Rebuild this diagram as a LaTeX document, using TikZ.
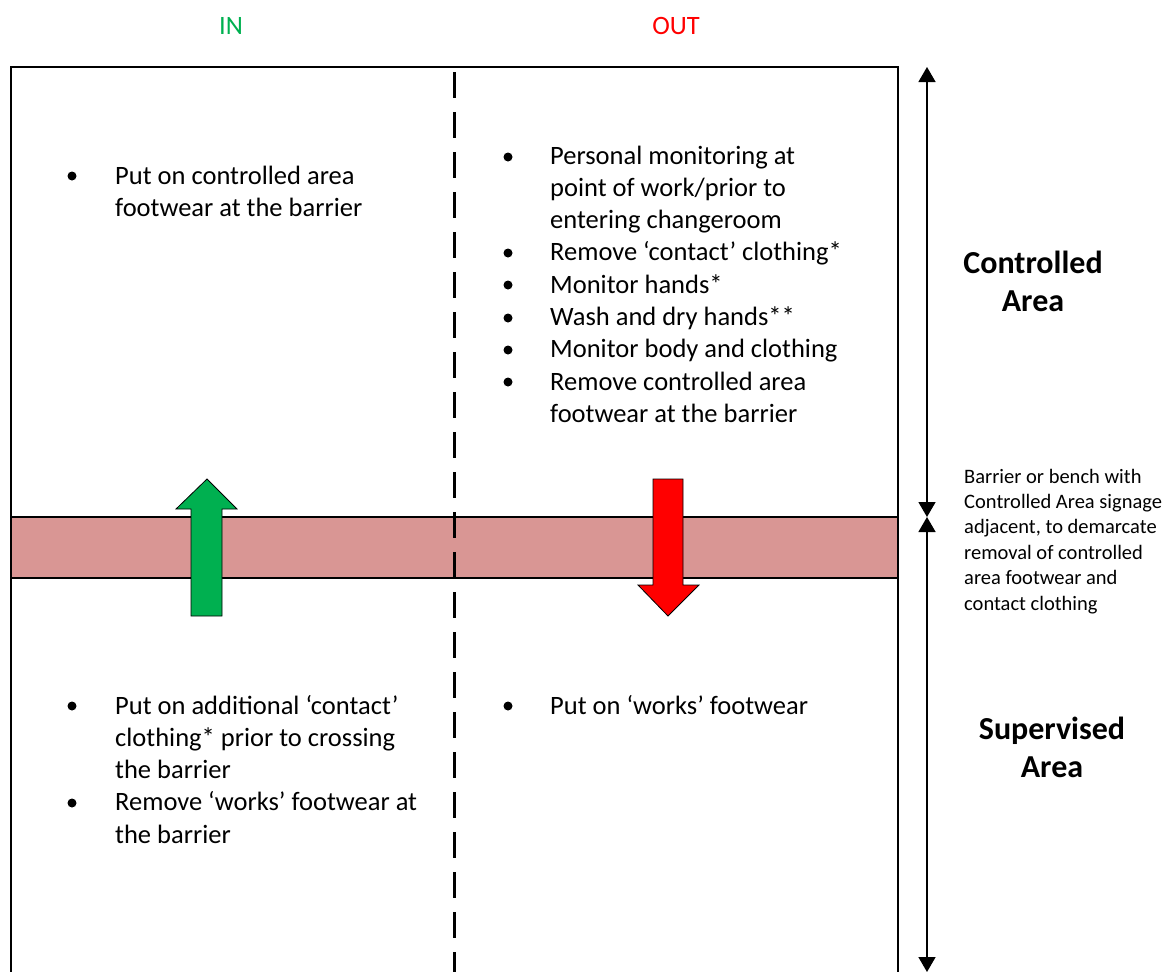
\documentclass[tikz,border=0pt]{standalone}
\usepackage{fontspec}
\setmainfont{Carlito}
\usetikzlibrary{arrows.meta}
\definecolor{ingreen}{HTML}{00B050}
\definecolor{outred}{HTML}{FF0000}
\definecolor{barrierfill}{HTML}{D99694}
\tikzset{
  body/.style={anchor=base west, inner sep=0pt, font=\fontsize{26.5}{32.3}\selectfont},
  heading/.style={anchor=base, inner sep=0pt, font=\fontsize{26.5}{32.3}\selectfont},
  zonelabel/.style={anchor=base, inner sep=0pt, font=\fontsize{32}{39}\selectfont\bfseries},
  note/.style={anchor=base west, inner sep=0pt, font=\fontsize{20.5}{25.4}\selectfont},
  dot/.style={circle, fill=black, inner sep=0pt, minimum size=9pt},
  frame/.style={line width=1.8pt},
  divider/.style={line width=3pt, dash pattern=on 26pt off 14pt},
  span/.style={line width=1.5pt, {Triangle[length=15pt,width=17pt]}-{Triangle[length=15pt,width=17pt]}},
  flow/.style={draw=black, line width=0.8pt}
}
\begin{document}
\begin{tikzpicture}[x=1pt,y=-1pt]
\useasboundingbox (0,0) rectangle (1173,972);

% column headings
\node[heading, text=ingreen] (inhead) at (231,34) {IN};
\node[heading, text=outred] (outhead) at (676,34) {OUT};

% barrier band across both columns
\draw[frame, fill=barrierfill] (11,517) rectangle (898,578);

% outer frame (open at the bottom)
\draw[frame] (11,972) -- (11,67) -- (898,67) -- (898,972);

% IN / OUT divider
\draw[divider] (454,72) -- (454,972);

% direction arrows through the barrier
\draw[flow, fill=ingreen] (191,616) -- (191,509) -- (176,509) -- (207,479)
  -- (237,509) -- (222,509) -- (222,616) -- cycle;
\draw[flow, fill=outred] (653,479) -- (683,479) -- (683,585) -- (699,585)
  -- (668,616) -- (638,585) -- (653,585) -- cycle;

% controlled area, IN
\node[dot] (b1) at (72,176) {};
\node[body] (t1a) at (115,184) {Put on controlled area};
\node[body] (t1b) at (115,216.3) {footwear at the barrier};

% controlled area, OUT
\node[dot] (b2) at (508,157) {};
\node[body] (t2a) at (550,164) {Personal monitoring at};
\node[body] (t2b) at (550,196.3) {point of work/prior to};
\node[body] (t2c) at (550,228.6) {entering changeroom};
\node[dot] (b3) at (508,253) {};
\node[body] (t3) at (550,260.9) {Remove ‘contact’ clothing*};
\node[dot] (b4) at (508,285) {};
\node[body] (t4) at (550,293.2) {Monitor hands*};
\node[dot] (b5) at (508,318) {};
\node[body] (t5) at (550,325.5) {Wash and dry hands**};
\node[dot] (b6) at (508,350) {};
\node[body] (t6) at (550,357.8) {Monitor body and clothing};
\node[dot] (b7) at (508,382) {};
\node[body] (t7a) at (550,390.1) {Remove controlled area};
\node[body] (t7b) at (550,422.4) {footwear at the barrier};

% supervised area, IN
\node[dot] (b8) at (72,706) {};
\node[body] (t8a) at (115,714) {Put on additional ‘contact’};
\node[body] (t8b) at (115,746.3) {clothing* prior to crossing};
\node[body] (t8c) at (115,778.6) {the barrier};
\node[dot] (b9) at (72,803) {};
\node[body] (t9a) at (115,810.9) {Remove ‘works’ footwear at};
\node[body] (t9b) at (115,843.2) {the barrier};

% supervised area, OUT
\node[dot] (b10) at (508,706) {};
\node[body] (t10) at (550,714) {Put on ‘works’ footwear};

% extent markers on the right
\coordinate (dtop) at (927,67);
\coordinate (dmid) at (927,517);
\coordinate (dbot) at (927,972);
\draw[span] (dtop) -- (dmid);
\draw[span] (dmid) -- (dbot);

\node[zonelabel] (ca1) at (1033,273) {Controlled};
\node[zonelabel] (ca2) at (1033,311) {Area};
\node[zonelabel] (sa1) at (1052,739) {Supervised};
\node[zonelabel] (sa2) at (1052,777) {Area};

% barrier note
\node[note] (n1) at (964,483) {Barrier or bench with};
\node[note] (n2) at (964,508.4) {Controlled Area signage};
\node[note] (n3) at (964,533.8) {adjacent, to demarcate};
\node[note] (n4) at (964,559.2) {removal of controlled};
\node[note] (n5) at (964,584.6) {area footwear and};
\node[note] (n6) at (964,610) {contact clothing};
\end{tikzpicture}
\end{document}
